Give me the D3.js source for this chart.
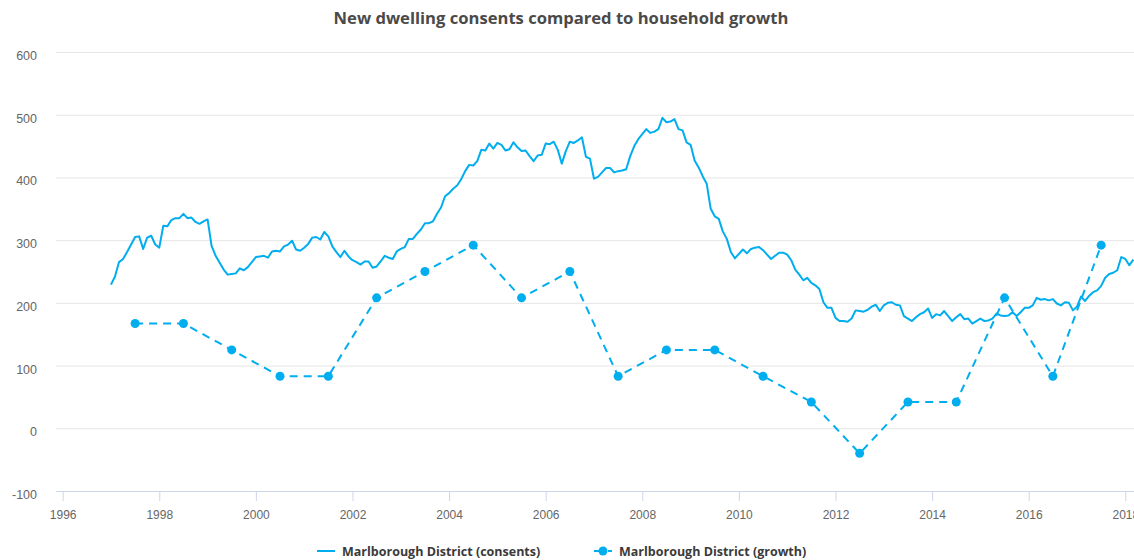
<!DOCTYPE html>
<html>
<head>
<meta charset="utf-8">
<script src="https://cdn.jsdelivr.net/npm/d3@7"></script>
<style>
  html, body { margin: 0; padding: 0; background: #fff; }
  svg { display: block; font-family: "Open Sans", Lato, sans-serif; }
</style>
</head>
<body>
<svg id="chart" width="1134" height="560"></svg>
<script>
// Monthly new dwelling consents (rolling), starting January 1997
const consentsStart = 1997;
const consents = [
  229, 242, 265, 270, 281, 293, 305, 306, 286, 304, 307, 293,
  288, 323, 322, 332, 335, 335, 342, 335, 336, 329, 326, 330,
  333, 291, 275, 264, 253, 245, 246, 247, 255, 252, 257, 265,
  273, 274, 275, 272, 282, 283, 282, 290, 293, 299, 285, 283,
  288, 294, 304, 305, 301, 313, 306, 290, 281, 273, 283, 274,
  268, 265, 261, 266, 266, 256, 258, 266, 275, 272, 270, 282,
  286, 289, 302, 302, 310, 317, 327, 327, 330, 342, 352, 370,
  375, 382, 387, 397, 410, 420, 419, 426, 444, 443, 454, 446,
  455, 452, 443, 445, 456, 448, 442, 443, 434, 426, 435, 436,
  454, 453, 457, 444, 422, 442, 457, 455, 459, 464, 433, 430,
  398, 401, 408, 415, 415, 408, 410, 411, 413, 434, 450, 461,
  469, 477, 471, 473, 477, 495, 488, 489, 493, 477, 475, 456,
  452, 427, 416, 402, 390, 350, 338, 334, 314, 302, 281, 271,
  278, 285, 279, 286, 288, 289, 284, 277, 270, 275, 280, 280,
  277, 268, 253, 245, 236, 240, 232, 228, 222, 201, 192, 192,
  176, 171, 171, 170, 175, 188, 187, 186, 189, 194, 197, 187,
  196, 200, 201, 197, 196, 179, 175, 171, 177, 182, 185, 191,
  176, 182, 180, 187, 179, 171, 177, 182, 174, 175, 167, 171,
  175, 171, 172, 175, 183, 180, 179, 180, 185, 179, 185, 192,
  192, 196, 208, 205, 206, 204, 206, 199, 196, 201, 200, 188,
  194, 210, 203, 211, 217, 220, 227, 240, 246, 248, 252, 273,
  270, 260, 269
];

// Annual household growth, plotted at mid-year
const growthYears = [1997, 1998, 1999, 2000, 2001, 2002, 2003, 2004, 2005, 2006, 2007,
                     2008, 2009, 2010, 2011, 2012, 2013, 2014, 2015, 2016, 2017];
const growth = [167, 167, 125, 83, 83, 208, 250, 292, 208, 250, 83,
                125, 125, 83, 42, -40, 42, 42, 208, 83, 292];

const yTicks = [-100, 0, 100, 200, 300, 400, 500, 600];
const xTicks = [1996, 1998, 2000, 2002, 2004, 2006, 2008, 2010, 2012, 2014, 2016, 2018];

const seriesNames = ["Marlborough District (consents)", "Marlborough District (growth)"];
const titleText = "New dwelling consents compared to household growth";

const color = "#00aeef";
const svg = d3.select("#chart");
const plot = { left: 56, right: 1134, top: 52, bottom: 491 };

const x = d3.scaleLinear().domain([1995.862, 2018.18]).range([plot.left, plot.right]);
const y = d3.scaleLinear().domain([-100, 600]).range([plot.bottom, plot.top]);

// Plain hyphen-minus for negative labels
const intFormat = d3.formatLocale({ decimal: ".", thousands: ",", grouping: [3], currency: ["", ""], minus: "-" }).format("d");

// Title
svg.append("text")
  .attr("x", 561).attr("y", 24)
  .attr("text-anchor", "middle")
  .attr("fill", "#4a4a4a")
  .attr("font-size", 16.6)
  .attr("font-weight", 700)
  .text(titleText);

// Horizontal grid and left labels
const yAxis = d3.axisLeft(y).tickValues(yTicks).tickSize(-(plot.right - plot.left)).tickPadding(19)
  .tickFormat(intFormat);
const gy = svg.append("g").attr("transform", `translate(${plot.left},0)`).call(yAxis);
gy.select(".domain").remove();
gy.selectAll(".tick line").attr("stroke", "#e6e6e6").attr("stroke-width", 1);
gy.selectAll(".tick text").attr("fill", "#666").attr("font-size", 12.5).attr("dy", "0.6em");

// Bottom axis
const xAxis = d3.axisBottom(x).tickValues(xTicks).tickSize(10).tickPadding(8)
  .tickFormat(intFormat);
const gx = svg.append("g").attr("transform", `translate(0,${plot.bottom})`).call(xAxis);
gx.select(".domain").attr("stroke", "#ccd6eb").attr("d", `M${plot.left},0.5H${plot.right}`);
gx.selectAll(".tick line").attr("stroke", "#ccd6eb");
gx.selectAll(".tick text").attr("fill", "#666").attr("font-size", 12).attr("dy", "0.85em");

// Clip region for the series
svg.append("clipPath").attr("id", "plotClip")
  .append("rect").attr("x", plot.left).attr("y", 0)
  .attr("width", plot.right - plot.left).attr("height", plot.bottom + 10);

const series = svg.append("g").attr("clip-path", "url(#plotClip)");

// Consents line
const consentData = consents.map((v, i) => ({ t: consentsStart + i / 12, v }));
series.append("path")
  .datum(consentData)
  .attr("fill", "none")
  .attr("stroke", color)
  .attr("stroke-width", 2)
  .attr("stroke-linejoin", "round")
  .attr("d", d3.line().x(d => x(d.t)).y(d => y(d.v)));

// Growth dashed line with markers
const growthData = growthYears.map((yr, i) => ({ t: yr + 0.5, v: growth[i] }));
series.append("path")
  .datum(growthData)
  .attr("fill", "none")
  .attr("stroke", color)
  .attr("stroke-width", 2)
  .attr("stroke-dasharray", "8,6")
  .attr("d", d3.line().x(d => x(d.t)).y(d => y(d.v)));
series.selectAll("circle.growth")
  .data(growthData)
  .join("circle")
  .attr("class", "growth")
  .attr("cx", d => x(d.t)).attr("cy", d => y(d.v))
  .attr("r", 4.5)
  .attr("fill", color);

// Legend
const legend = svg.append("g").attr("font-size", 12.5).attr("font-weight", 700).attr("fill", "#3a3a3a");
const lg1 = legend.append("g").attr("transform", "translate(317,551)");
lg1.append("line").attr("x1", 0).attr("x2", 18).attr("y1", 0).attr("y2", 0)
  .attr("stroke", color).attr("stroke-width", 2);
lg1.append("text").attr("x", 25).attr("y", 5).text(seriesNames[0]);

const lg2 = legend.append("g").attr("transform", "translate(594,551)");
lg2.append("line").attr("x1", 0).attr("x2", 18).attr("y1", 0).attr("y2", 0)
  .attr("stroke", color).attr("stroke-width", 2).attr("stroke-dasharray", "8,6");
lg2.append("circle").attr("cx", 9).attr("cy", 0).attr("r", 4.5).attr("fill", color);
lg2.append("text").attr("x", 25).attr("y", 5).text(seriesNames[1]);
</script>
</body>
</html>
